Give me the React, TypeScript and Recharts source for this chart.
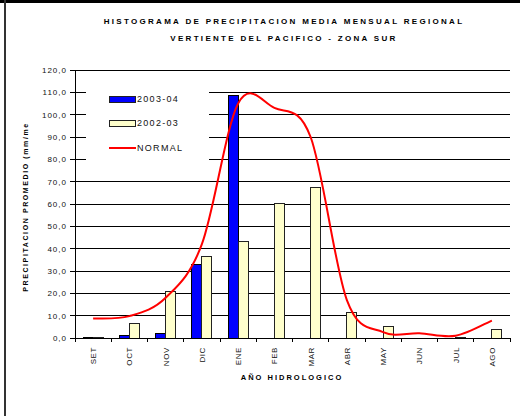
import React from "react";
import { ComposedChart, Bar, Line, XAxis, YAxis, CartesianGrid, Label } from "recharts";

// meses del año hidrologico
const months = ["SET", "OCT", "NOV", "DIC", "ENE", "FEB", "MAR", "ABR", "MAY", "JUN", "JUL", "AGO"];
const serie0304 = [0.3, 1.2, 2.1, 33, 108.5, 0, 0, 0, 0, 0, 0, 0];
const serie0203 = [0.3, 6.6, 20.8, 36.4, 43.1, 60.2, 67.4, 11.3, 5.1, 0, 0.3, 3.9];
const normal = [8.7, 9.8, 18, 42, 105, 103, 90, 17, 2.6, 2.1, 1.0, 7.8];
const yTicks = [0, 10, 20, 30, 40, 50, 60, 70, 80, 90, 100, 110, 120];

const data = months.map((m, i) => ({
     mes: m,
     a0304: serie0304[i],
     a0203: serie0203[i],
     normal: normal[i],
}));

const W = 520;
const H = 416;
const MARGIN = { top: 70, right: 10, bottom: 48, left: 0 };
const YAXIS_W = 75;
const BAND = (W - MARGIN.left - MARGIN.right - YAXIS_W) / months.length;
const FONT = "Arial, 'Liberation Sans', sans-serif";

// curva suavizada tipo Excel (Catmull-Rom)
const smoothCurve = (context: any) => {
     let pts: number[][] = [];
     return {
          areaStart() {},
          areaEnd() {},
          lineStart() {
               pts = [];
          },
          point(x: number, y: number) {
               pts.push([+x, +y]);
          },
          lineEnd() {
               if (!pts.length) return;
               context.moveTo(pts[0][0], pts[0][1]);
               for (let i = 0; i < pts.length - 1; i++) {
                    const p0 = pts[i - 1] || pts[i];
                    const p1 = pts[i];
                    const p2 = pts[i + 1];
                    const p3 = pts[i + 2] || p2;
                    context.bezierCurveTo(
                         p1[0] + (p2[0] - p0[0]) / 6,
                         p1[1] + (p2[1] - p0[1]) / 6,
                         p2[0] - (p3[0] - p1[0]) / 6,
                         p2[1] - (p3[1] - p1[1]) / 6,
                         p2[0],
                         p2[1]
                    );
               }
          },
     };
};

const MonthTick = (props: any) => {
     const { x, y, payload, index } = props;
     const left = x - BAND / 2;
     return (
          <g>
               <line x1={left} y1={y} x2={left} y2={y + 4} stroke="#000" shapeRendering="crispEdges" />
               {index === months.length - 1 && (
                    <line x1={x + BAND / 2} y1={y} x2={x + BAND / 2} y2={y + 4} stroke="#000" shapeRendering="crispEdges" />
               )}
               <text
                    x={x + 3}
                    y={y + 9}
                    transform={`rotate(-90 ${x + 3} ${y + 9})`}
                    textAnchor="end"
                    fontSize={8}
                    letterSpacing={0.6}
                    fill="#111"
                    fontFamily={FONT}
               >
                    {payload.value}
               </text>
          </g>
     );
};

const ValueTick = (props: any) => {
     const { x, y, payload } = props;
     return (
          <text x={x} y={y} dy={3} textAnchor="end" fontSize={8} letterSpacing={1} fill="#111" fontFamily={FONT}>
               {payload.value.toFixed(1).replace(".", ",")}
          </text>
     );
};

const legendItems = [
     { name: "2003-04", kind: "bar", fill: "#0000ff", top: 15 },
     { name: "2002-03", kind: "bar", fill: "#ffffcc", top: 39 },
     { name: "NORMAL", kind: "line", fill: "#ff0000", top: 64 },
];

const titleStyle: React.CSSProperties = {
     position: "absolute",
     left: 284,
     transform: "translateX(-50%)",
     whiteSpace: "nowrap",
     fontSize: 8,
     lineHeight: "10px",
     fontWeight: "bold",
     letterSpacing: 2.3,
};

export default function App() {
     return (
          <div style={{ position: "absolute", left: 0, top: 0, width: W, height: H, background: "#fff", fontFamily: FONT }}>
               <div style={{ position: "absolute", left: 0, top: 0, width: W, height: 3, background: "#000" }} />
               <div style={{ position: "absolute", left: 4, top: 0, width: 2, height: H, background: "#333" }} />

               <div style={{ ...titleStyle, top: 17 }}>HISTOGRAMA DE PRECIPITACION MEDIA MENSUAL REGIONAL</div>
               <div style={{ ...titleStyle, top: 34 }}>VERTIENTE DEL PACIFICO - ZONA SUR</div>

               <ComposedChart width={W} height={H} data={data} margin={MARGIN} barGap={0}>
                    <CartesianGrid vertical={false} stroke="#000" shapeRendering="crispEdges" />
                    <XAxis
                         dataKey="mes"
                         tick={<MonthTick />}
                         tickLine={false}
                         tickSize={0}
                         tickMargin={0}
                         interval={0}
                         height={30}
                         axisLine={{ stroke: "#000", shapeRendering: "crispEdges" }}
                    >
                         <Label
                              content={() => (
                                   <text x={292} y={380} textAnchor="middle" fontSize={7.5} fontWeight="bold" letterSpacing={2} fontFamily={FONT}>
                                        AÑO HIDROLOGICO
                                   </text>
                              )}
                         />
                    </XAxis>
                    <YAxis
                         width={YAXIS_W}
                         domain={[0, 120]}
                         ticks={yTicks}
                         tick={<ValueTick />}
                         tickSize={5}
                         tickMargin={3}
                         tickLine={{ stroke: "#000", shapeRendering: "crispEdges" }}
                         axisLine={{ stroke: "#000", shapeRendering: "crispEdges" }}
                         interval={0}
                    >
                         <Label
                              content={() => (
                                   <text
                                        x={28}
                                        y={207}
                                        transform="rotate(-90 28 207)"
                                        textAnchor="middle"
                                        fontSize={7}
                                        fontWeight="bold"
                                        letterSpacing={1.6}
                                        fontFamily={FONT}
                                   >
                                        PRECIPITACION PROMEDIO (mm/me
                                   </text>
                              )}
                         />
                    </YAxis>
                    <YAxis
                         yAxisId="borde"
                         orientation="right"
                         width={0}
                         domain={[0, 120]}
                         tick={false}
                         tickLine={false}
                         axisLine={{ stroke: "#000", shapeRendering: "crispEdges" }}
                    />
                    <Bar dataKey="a0304" name="2003-04" fill="#0000ff" stroke="#000" strokeWidth={1} barSize={10} shapeRendering="crispEdges" isAnimationActive={false} />
                    <Bar dataKey="a0203" name="2002-03" fill="#ffffcc" stroke="#222" strokeWidth={1} barSize={10} shapeRendering="crispEdges" isAnimationActive={false} />
                    <Line dataKey="normal" name="NORMAL" type={smoothCurve as any} stroke="#ff0000" strokeWidth={2} dot={false} isAnimationActive={false} />
               </ComposedChart>

               {/* leyenda con fondo blanco */}
               <div style={{ position: "absolute", left: 86, top: 84, width: 123, height: 80, background: "#fff" }}>
                    {legendItems.map((it) => (
                         <div key={it.name} style={{ position: "absolute", left: 0, top: it.top - 5, height: 10, whiteSpace: "nowrap" }}>
                              {it.kind === "bar" ? (
                                   <div style={{ position: "absolute", left: 23, top: 2, width: 25, height: 5, background: it.fill, border: "1px solid #222" }} />
                              ) : (
                                   <div style={{ position: "absolute", left: 23, top: 4, width: 27, height: 2, background: it.fill }} />
                              )}
                              <div style={{ position: "absolute", left: 51, top: 0, fontSize: 9, lineHeight: "10px", letterSpacing: 1.3, color: "#111" }}>
                                   {it.name}
                              </div>
                         </div>
                    ))}
               </div>
          </div>
     );
}
